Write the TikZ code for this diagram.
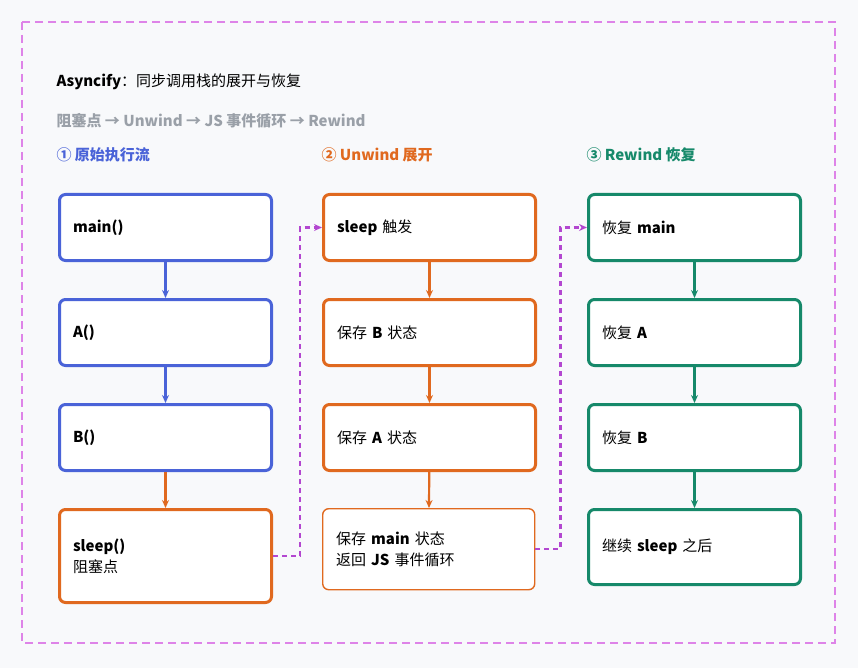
\documentclass[tikz,border=0pt]{standalone}
\usepackage{fontspec}
\setmainfont{Noto Sans CJK SC}
\usetikzlibrary{arrows.meta, positioning}
\definecolor{bluel}{HTML}{4A63D8}
\definecolor{orangel}{HTML}{E0691F}
\definecolor{greenl}{HTML}{16896A}
\definecolor{violetl}{HTML}{B347D0}
\definecolor{framel}{HTML}{DE84E8}
\definecolor{grayl}{HTML}{9AA0A8}
\definecolor{bgl}{HTML}{F8F9FB}
\begin{document}
\begin{tikzpicture}[x=1pt,y=-1pt,
	box/.style={draw, line width=3pt, rounded corners=6pt, fill=white, minimum width=212pt, minimum height=66pt, anchor=north west, text width=185pt, align=left, font=\fontsize{15}{21}\selectfont},
	bluebox/.style={box, draw=bluel},
	orangebox/.style={box, draw=orangel},
	greenbox/.style={box, draw=greenl},
	flow/.style={-{Stealth[length=8pt, width=7pt]}, line width=2.2pt},
	jump/.style={-{Stealth[length=8pt, width=7pt]}, line width=2.4pt, draw=violetl, dash pattern=on 5pt off 4pt},
	head/.style={anchor=west, font=\fontsize{15}{18}\selectfont\bfseries}]
	\fill[bgl] (0,0) rectangle (858,668);
	\useasboundingbox (0,0) rectangle (858,668);
	\draw[framel, line width=2.2pt, dash pattern=on 8pt off 5pt] (22,22) rectangle (835,643);
	\node (title) [head, font=\fontsize{15}{18}\selectfont] at (53,82) {\textbf{Asyncify}：\textit{同步调用栈的展开与恢复}};
	\node (subtitle) [head, text=grayl] at (53,121) {阻塞点 → Unwind → JS 事件循环 → Rewind};
	\node (headA) [head, text=bluel] at (53,155) {① 原始执行流};
	\node (headB) [head, text=orangel] at (318,155) {② Unwind 展开};
	\node (headC) [head, text=greenl] at (583,155) {③ Rewind 恢复};
	% column 1
	\node (main) [bluebox] at (58,193) {\textbf{main()}};
	\node (fa) [bluebox] at (58,298) {\textbf{A()}};
	\node (fb) [bluebox] at (58,403) {\textbf{B()}};
	\node (sleep) [orangebox, minimum height=93pt] at (58,508) {\textbf{sleep()}\\ \textit{阻塞点}};
	% column 2
	\node (trigger) [orangebox] at (322,193) {\textbf{sleep} \textit{触发}};
	\node (saveB) [orangebox] at (322,298) {\textit{保存} \textbf{B} \textit{状态}};
	\node (saveA) [orangebox] at (322,403) {\textit{保存} \textbf{A} \textit{状态}};
	\node (saveMain) [orangebox, line width=1.4pt, minimum height=81pt] at (322,508) {\textit{保存} \textbf{main} \textit{状态}\\ \textit{返回} \textbf{JS} \textit{事件循环}};
	% column 3
	\node (resMain) [greenbox] at (587,193) {\textit{恢复} \textbf{main}};
	\node (resA) [greenbox] at (587,298) {\textit{恢复} \textbf{A}};
	\node (resB) [greenbox] at (587,403) {\textit{恢复} \textbf{B}};
	\node (cont) [greenbox, minimum height=75pt] at (587,508) {\textit{继续} \textbf{sleep} \textit{之后}};
	\draw[flow, bluel] (main) -- (fa);
	\draw[flow, bluel] (fa) -- (fb);
	\draw[flow, orangel] (fb) -- (sleep);
	\draw[flow, orangel] (trigger) -- (saveB);
	\draw[flow, orangel] (saveB) -- (saveA);
	\draw[flow, orangel] (saveA) -- (saveMain);
	\draw[flow, greenl] (resMain) -- (resA);
	\draw[flow, greenl] (resA) -- (resB);
	\draw[flow, greenl] (resB) -- (cont);
	\draw[jump] (sleep.east) -- ++(27,0) |- (trigger.west);
	\draw[jump] (saveMain.east) -- ++(25,0) |- (resMain.west);
\end{tikzpicture}
\end{document}
